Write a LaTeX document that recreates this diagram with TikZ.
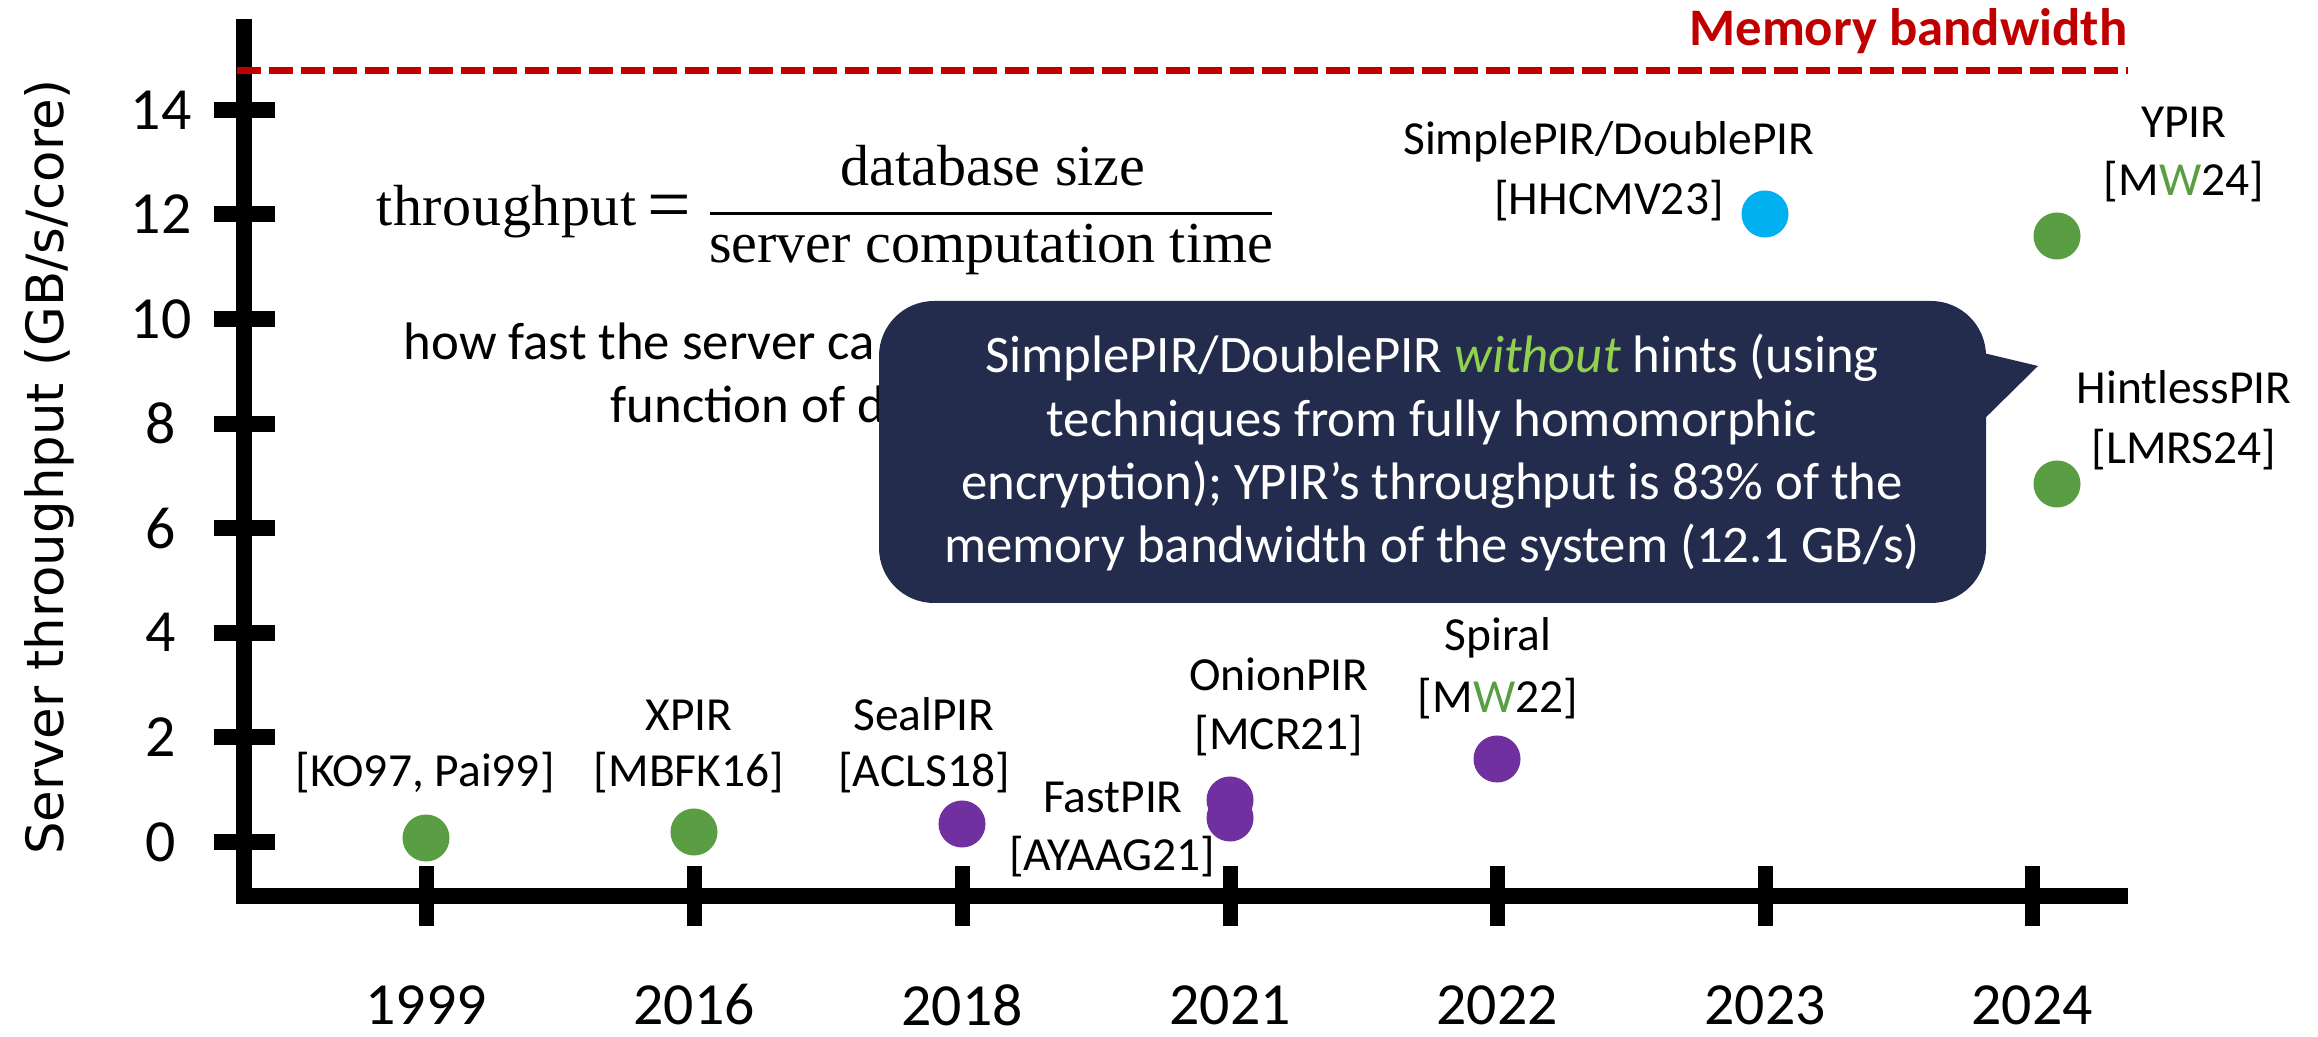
\documentclass[tikz,border=0pt]{standalone}
\usepackage{fontspec}
\setmainfont{Carlito}
\newfontfamily\eqfont{Liberation Serif}
\newfontfamily\eqwidefont[LetterSpace=1.0]{Liberation Serif}
\newfontfamily\axisfont{DejaVu Sans}

\definecolor{memred}{RGB}{192,0,0}
\definecolor{dotgreen}{RGB}{90,158,68}
\definecolor{dotpurple}{RGB}{112,48,160}
\definecolor{dotblue}{RGB}{0,176,240}
\definecolor{navy}{RGB}{36,44,77}
\definecolor{limegreen}{RGB}{146,208,80}

\begin{document}
\begin{tikzpicture}[x=0.01cm, y=-0.01cm,
  lbl/.style={font=\fontsize{13.5}{16}\selectfont, anchor=base, inner sep=0},
  ticklbl/.style={font=\fontsize{17}{20}\selectfont, inner sep=0},
  eq/.style={font=\eqfont\fontsize{16.5}{19}\selectfont, inner sep=0},
  desc/.style={font=\fontsize{15}{18}\selectfont, anchor=base west, inner sep=0},
  cline/.style={font=\fontsize{15}{18}\selectfont, text=white, anchor=base, inner sep=0},
  dot/.style={circle, minimum size=0.47cm, inner sep=0},
  axisline/.style={line width=0.15cm},
  ytick/.style={line width=0.16cm},
  xtick/.style={line width=0.15cm},
  bwline/.style={memred, line width=0.07cm, dash pattern=on 0.24cm off 0.08cm}
]
\useasboundingbox (0,0) rectangle (2318,1037);

% definition of throughput
\node[eq, font=\eqwidefont\fontsize{16.5}{19}\selectfont, anchor=base west] (tp) at (376,226) {throughput};
\node[eq, font=\eqfont\fontsize{22}{24}\selectfont] (eqsign) at (669,213) {=};
\node[eq, anchor=base] (num) at (993,186) {database size};
\node[eq, anchor=base] (den) at (991,263) {server computation time};
\draw[line width=0.03cm] (710,214) -- (1272,214);

% explanation, partly hidden behind the callout
\node[desc] (how1) at (403,360) {how fast the server ca};
\node[desc] (how2) at (610,423) {function of d};

% callout
\fill[navy, rounded corners=0.55cm] (879,301) rectangle (1986,603);
\fill[navy] (1975,351) -- (2038,366) -- (1975,428) -- cycle;
\node[cline] (c1) at (1432,373) {SimplePIR/DoublePIR {\itshape\color{limegreen}without} hints (using};
\node[cline] (c2) at (1432,437) {techniques from fully homomorphic};
\node[cline] (c3) at (1432,500) {encryption); YPIR’s throughput is 83\% of the};
\node[cline] (c4) at (1432,563) {memory bandwidth of the system (12.1 GB/s)};

% axes
\draw[axisline] (244,19) -- (244,903.5);
\draw[axisline] (236.5,896) -- (2128,896);

% memory bandwidth limit
\draw[bwline] (237,71) -- (2128,71);
\node[font=\fontsize{15}{18}\selectfont\bfseries, text=memred, anchor=base east, inner sep=0] (mbw) at (2128,46) {Memory bandwidth};

% y ticks and labels
\foreach \v in {0,2,...,14} {
  \draw[ytick] (214,{842-52.3*\v}) -- (275,{842-52.3*\v});
  \node[ticklbl] (yl\v) at (161,{842-52.3*\v}) {\v};
}
\node[font=\axisfont\fontsize{14.6}{17}\selectfont, rotate=90, anchor=base, inner sep=0] (ylab) at (64,467) {Server throughput (GB/s/core)};

% x ticks and years
\foreach \x/\yr in {426/1999, 694/2016, 962/2018, 1230/2021, 1497/2022, 1765/2023, 2032/2024} {
  \draw[xtick] (\x,866) -- (\x,926);
  \node[ticklbl] (yr\yr) at (\x,1005) {\yr};
}

% data points
\node[dot, fill=dotgreen] (pKO) at (426,838) {};
\node[dot, fill=dotgreen] (pXPIR) at (694,832) {};
\node[dot, fill=dotpurple] (pSeal) at (962,824) {};
\node[dot, fill=dotpurple] (pFast) at (1230,818) {};
\node[dot, fill=dotpurple] (pOnion) at (1230,800) {};
\node[dot, fill=dotpurple] (pSpiral) at (1497,759) {};
\node[dot, fill=dotblue] (pSimple) at (1765,214) {};
\node[dot, fill=dotgreen] (pYPIR) at (2057,236) {};
\node[dot, fill=dotgreen] (pHintless) at (2057,484) {};

% scheme labels
\node[lbl] (lKO) at (425,787) {[KO97, Pai99]};
\node[lbl] (lXPIRa) at (689,731) {XPIR};
\node[lbl] (lXPIRb) at (689,787) {[MBFK16]};
\node[lbl] (lSeala) at (924,731) {SealPIR};
\node[lbl] (lSealb) at (924,787) {[ACLS18]};
\node[lbl] (lFasta) at (1113,813) {FastPIR};
\node[lbl] (lFastb) at (1112,870) {[AYAAG21]};
\node[lbl] (lOniona) at (1279,691) {OnionPIR};
\node[lbl] (lOnionb) at (1279,749) {[MCR21]};
\node[lbl] (lSpirala) at (1498,651) {Spiral};
\node[lbl] (lSpiralb) at (1498,712) {[M{\color{dotgreen}W}22]};
\node[lbl] (lSimplea) at (1609,155) {SimplePIR/DoublePIR};
\node[lbl] (lSimpleb) at (1609,215) {[HHCMV23]};
\node[lbl] (lYPIRa) at (2184,138) {YPIR};
\node[lbl] (lYPIRb) at (2184,196) {[M{\color{dotgreen}W}24]};
\node[lbl] (lHinta) at (2184,404) {HintlessPIR};
\node[lbl] (lHintb) at (2184,464) {[LMRS24]};
\end{tikzpicture}
\end{document}
